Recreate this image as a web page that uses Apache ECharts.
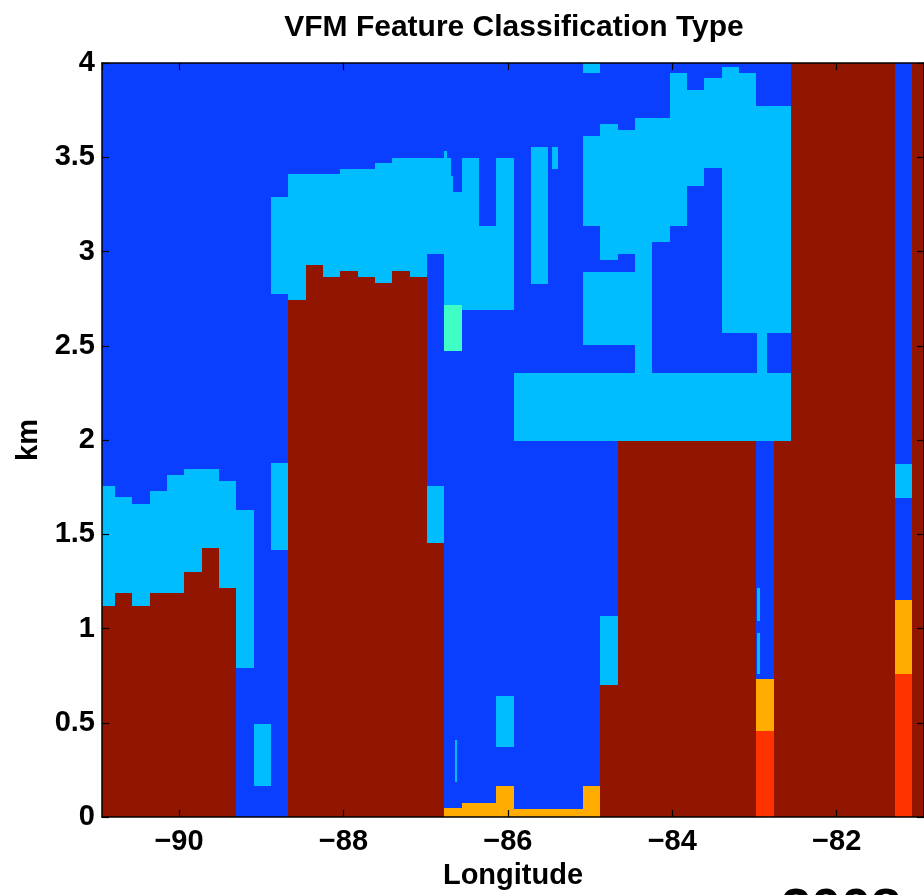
<!DOCTYPE html>
<html>
<head>
<meta charset="utf-8">
<script src="https://cdn.jsdelivr.net/npm/echarts@6/dist/echarts.min.js"></script>
<style>
html,body{margin:0;padding:0;background:#ffffff;}
#chart{width:924px;height:895px;}
</style>
</head>
<body>
<div id="chart"></div>
<script>
// ---------------- data ----------------
// longitude extent of the visible plot
const lonRange = [-90.937, -80.938];
// altitude extent (km)
const altRange = [0, 4];
// column (profile group) boundaries in longitude
const lonEdges = [
  -90.989, -90.778, -90.567, -90.357, -90.146, -89.935, -89.724, -89.513,
  -89.303, -89.092, -88.881, -88.670, -88.459, -88.249, -88.038, -87.827,
  -87.616, -87.405, -87.195, -86.984, -86.773, -86.562, -86.351, -86.141,
  -85.930, -85.719, -85.508, -85.297, -85.087, -84.876, -84.665, -84.454,
  -84.243, -84.033, -83.822, -83.611, -83.400, -83.189, -82.979, -82.768,
  -82.557, -82.346, -82.135, -81.925, -81.714, -81.503, -81.292, -81.081,
  -80.871
];
// feature type codes: 1 clear air, 2 cloud, 3 aerosol, 5 surface, 6 subsurface, 7 no signal (attenuated)
const classNames = {1:'clear air', 2:'cloud', 3:'aerosol', 5:'surface', 6:'subsurface', 7:'no signal'};
// features per column: [base km, top km, type]; everything else is clear air
const profiles = [
  [[0,1.117,7],[1.117,1.758,2]],
  [[0,1.188,7],[1.188,1.697,2]],
  [[0,1.117,7],[1.117,1.662,2]],
  [[0,1.188,7],[1.188,1.729,2]],
  [[0,1.188,7],[1.188,1.815,2]],
  [[0,1.302,7],[1.302,1.846,2]],
  [[0,1.425,7],[1.425,1.846,2]],
  [[0,1.214,7],[1.214,1.785,2]],
  [[0.792,1.630,2]],
  [[0.163,0.494,2]],
  [[1.419,1.876,2],[2.772,3.290,2]],
  [[0,2.742,7],[2.742,3.410,2]],
  [[0,2.927,7],[2.927,3.410,2]],
  [[0,2.865,7],[2.865,3.410,2]],
  [[0,2.897,7],[2.897,3.440,2]],
  [[0,2.865,7],[2.865,3.440,2]],
  [[0,2.834,7],[2.834,3.468,2]],
  [[0,2.897,7],[2.897,3.498,2]],
  [[0,2.865,7],[2.865,3.498,2]],
  [[0,1.451,7],[1.451,1.758,2],[2.988,3.498,2]],
  [[0,0.046,5],[2.473,2.716,3],[2.716,3.498,2]],
  [[0,0.076,5],[2.689,3.498,2]],
  [[0,0.076,5],[2.689,3.137,2]],
  [[0,0.163,5],[0.371,0.643,2],[2.689,3.498,2]],
  [[0,0.042,5],[1.996,2.356,2]],
  [[0,0.042,5],[1.996,2.356,2],[2.830,3.556,2]],
  [[0,0.042,5],[1.996,2.356,2]],
  [[0,0.042,5],[1.996,2.356,2]],
  [[0,0.163,5],[1.996,2.356,2],[2.505,2.892,2],[3.137,3.615,2],[3.946,4.0,2]],
  [[0,0.699,7],[0.699,1.065,2],[1.996,2.356,2],[2.505,2.892,2],[2.953,3.677,2]],
  [[0,1.996,7],[1.996,2.356,2],[2.505,2.892,2],[2.988,3.647,2]],
  [[0,1.996,7],[1.996,3.708,2]],
  [[0,1.996,7],[1.996,2.356,2],[3.050,3.708,2]],
  [[0,1.996,7],[1.996,2.356,2],[3.137,3.946,2]],
  [[0,1.996,7],[1.996,2.356,2],[3.348,3.858,2]],
  [[0,1.996,7],[1.996,2.356,2],[3.445,3.919,2]],
  [[0,1.996,7],[1.996,2.356,2],[2.567,3.977,2]],
  [[0,1.996,7],[1.996,2.356,2],[2.567,3.946,2]],
  [[0,0.458,6],[0.458,0.731,5],[1.996,2.356,2],[2.567,3.770,2]],
  [[0,1.996,7],[1.996,2.356,2],[2.567,3.770,2]],
  [[0,4,7]],
  [[0,4,7]],
  [[0,4,7]],
  [[0,4,7]],
  [[0,4,7]],
  [[0,4,7]],
  [[0,0.757,6],[0.757,1.152,5],[1.692,1.873,2]],
  [[0,4,7]]
];
// narrow features finer than one column: [lon start, lon end, base km, top km, type]
const fineFeatures = [
  [-86.773, -86.740, 3.498, 3.532, 2],
  [-86.695, -86.663, 3.400, 3.498, 1],
  [-86.663, -86.562, 3.313, 3.498, 1],
  [-86.643, -86.615, 0.186, 0.406, 2],
  [-85.467, -85.386, 3.436, 3.556, 2],
  [-82.973, -82.847, 2.356, 2.567, 2],
  [-82.973, -82.932, 1.038, 1.214, 2],
  [-82.973, -82.932, 0.757, 0.977, 2]
];

// ---------------- styles ----------------
const typeColors = {1:'#0a3fff', 2:'#00bdff', 3:'#40ffc4', 5:'#ffab00', 6:'#ff3300', 7:'#921500'};
const FONT = "'Liberation Sans', Arial, Helvetica, sans-serif";

// build cells
const cells = [];
for (let j = 0; j < profiles.length; j++) {
  cells.push([lonEdges[j], lonEdges[j+1], altRange[0], altRange[1], 1]);
}
for (let j = 0; j < profiles.length; j++) {
  profiles[j].forEach(f => cells.push([lonEdges[j], lonEdges[j+1], f[0], f[1], f[2]]));
}
fineFeatures.forEach(f => cells.push(f.slice()));

function renderItem(params, api) {
  const p0 = api.coord([api.value(0), api.value(3)]);
  const p1 = api.coord([api.value(1), api.value(2)]);
  const x0 = Math.round(p0[0]), x1 = Math.round(p1[0]);
  const y0 = Math.round(p0[1]), y1 = Math.round(p1[1]);
  const cs = params.coordSys;
  const shape = echarts.graphic.clipRectByRect(
    {x: x0, y: y0, width: x1 - x0, height: y1 - y0},
    {x: cs.x, y: cs.y, width: cs.width, height: cs.height}
  );
  if (!shape) return;
  return {type: 'rect', shape: shape, style: {fill: typeColors[api.value(4)]}};
}

function fmtLon(v) {
  const r = Math.round(v);
  if (Math.abs(v - r) > 1e-6) return '';
  return r < 0 ? '\u2212' + Math.abs(r) : String(r);
}

const axisLineStyle = {color: '#000', width: 1.5};
const tickStyle = {color: '#000', width: 1.2};
const labelStyle = {color: '#000', fontFamily: FONT, fontWeight: 'bold', fontSize: 29};

const chart = echarts.init(document.getElementById('chart'), null, {renderer: 'canvas'});
chart.setOption({
  animation: false,
  backgroundColor: '#ffffff',
  grid: {left: 102, top: 63, right: -1, bottom: 73, containLabel: false},
  xAxis: [{
    type: 'value', position: 'bottom', min: lonRange[0], max: lonRange[1], splitNumber: 5, z: 10,
    axisLine: {show: true, onZero: false, lineStyle: axisLineStyle},
    axisTick: {show: true, inside: true, length: 7, lineStyle: tickStyle},
    splitLine: {show: false},
    axisLabel: Object.assign({margin: 10, showMinLabel: false, showMaxLabel: false, formatter: fmtLon}, labelStyle),
    name: 'Longitude', nameLocation: 'middle', nameGap: 44,
    nameTextStyle: {color: '#000', fontFamily: FONT, fontWeight: 'bold', fontSize: 29}
  }, {
    type: 'value', position: 'top', min: lonRange[0], max: lonRange[1], splitNumber: 5, z: 10,
    axisLine: {show: true, onZero: false, lineStyle: axisLineStyle},
    axisTick: {show: true, inside: true, length: 7, lineStyle: tickStyle},
    splitLine: {show: false}, axisLabel: {show: false}
  }],
  yAxis: [{
    type: 'value', position: 'left', min: altRange[0], max: altRange[1], interval: 0.5, z: 10,
    axisLine: {show: true, onZero: false, lineStyle: axisLineStyle},
    axisTick: {show: true, inside: true, length: 7, lineStyle: tickStyle},
    splitLine: {show: false},
    axisLabel: Object.assign({margin: 7}, labelStyle),
    name: 'km', nameLocation: 'middle', nameGap: 58, nameRotate: 90,
    nameTextStyle: {color: '#000', fontFamily: FONT, fontWeight: 'bold', fontSize: 29}
  }, {
    type: 'value', position: 'right', min: altRange[0], max: altRange[1], interval: 0.5, z: 10,
    axisLine: {show: true, onZero: false, lineStyle: axisLineStyle},
    axisTick: {show: true, inside: true, length: 7, lineStyle: tickStyle},
    splitLine: {show: false}, axisLabel: {show: false}
  }],
  graphic: [{
    type: 'text', x: 514, y: 28, z: 100,
    style: {text: 'VFM Feature Classification Type', font: 'bold 30px ' + FONT, fill: '#000', align: 'center', verticalAlign: 'middle'}
  }, {
    type: 'text', x: 781, y: 884, z: 100,
    style: {text: '2008', font: 'bold 54px ' + FONT, fill: '#000', align: 'left', verticalAlign: 'top'}
  }],
  series: [{
    type: 'custom', name: 'VFM', xAxisIndex: 0, yAxisIndex: 0,
    renderItem: renderItem, data: cells, z: 2, silent: true,
    encode: {x: [0, 1], y: [2, 3]}
  }]
});
</script>
</body>
</html>
